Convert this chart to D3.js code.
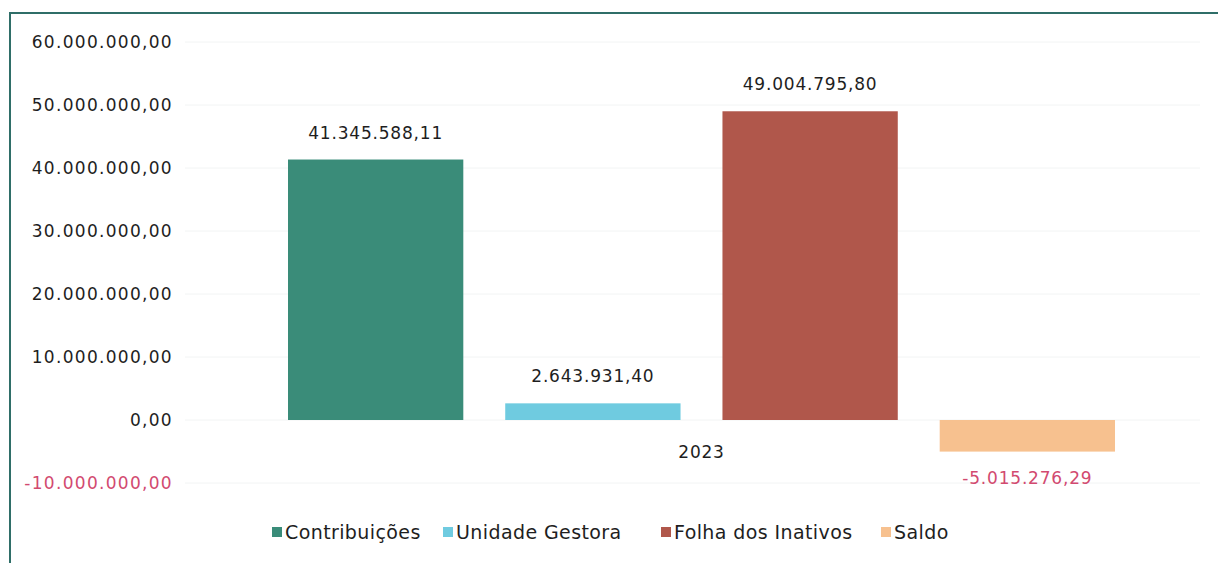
<!DOCTYPE html>
<html>
<head>
<meta charset="utf-8">
<script src="https://cdn.jsdelivr.net/npm/d3@7"></script>
<style>
  body { margin: 0; background: #fff; }
  svg { font-family: "DejaVu Sans", sans-serif; letter-spacing: 0.8px; }
</style>
</head>
<body>
<div id="graf"></div>
<script>
// Dados
const categoria = "2023"
const series = ["Contribuições", "Unidade Gestora", "Folha dos Inativos", "Saldo"]
const valores = [41345588.11, 2643931.40, 49004795.80, -5015276.29]
const cores = ["#3a8c79", "#6fcbe0", "#b0574b", "#f7c18f"]
const ticksY = [-10000000, 0, 10000000, 20000000, 30000000, 40000000, 50000000, 60000000]

const anchoTotal = 1218
const altoTotal = 563

const svg = d3.select("#graf")
  .append("svg")
  .attr("width", anchoTotal)
  .attr("height", altoTotal)

// Marco
svg.append("path")
  .attr("d", `M10,${altoTotal + 5} L10,13 L${anchoTotal + 5},13`)
  .attr("fill", "none")
  .attr("stroke", "#2f6e68")
  .attr("stroke-width", 2)

// Formato pt-BR
const fmt = (v) => {
  const s = Math.abs(v).toFixed(2).split(".")
  const ent = s[0].replace(/\B(?=(\d{3})+(?!\d))/g, ".")
  return (v < 0 ? "-" : "") + ent + "," + s[1]
}

// Escaladores
const y = d3.scaleLinear().domain([-10000000, 60000000]).range([483, 42])
const x1 = d3.scaleBand().domain(series).range([288, 1115]).paddingInner(0.193).paddingOuter(0)

// Grid
svg.append("g")
  .selectAll("line")
  .data(ticksY)
  .join("line")
  .attr("x1", 185)
  .attr("x2", 1200)
  .attr("y1", (d) => y(d))
  .attr("y2", (d) => y(d))
  .attr("stroke", "#f2f4f4")
  .attr("stroke-width", 1)

// Eixo Y
const yAxis = d3.axisLeft(y).tickValues(ticksY).tickFormat(fmt).tickSize(0).tickPadding(0)
const yg = svg.append("g").attr("transform", "translate(173,0)").call(yAxis)
yg.select(".domain").remove()
yg.selectAll("text")
  .attr("font-size", 17)
  .attr("font-family", "DejaVu Sans")
  .attr("letter-spacing", "1.3px")
  .attr("fill", (d) => d < 0 ? "#d24a70" : "#1e1e1e")

// Barras
svg.append("g")
  .selectAll("rect")
  .data(valores)
  .join("rect")
  .attr("x", (d, i) => x1(series[i]))
  .attr("width", x1.bandwidth())
  .attr("y", (d) => y(Math.max(0, d)))
  .attr("height", (d) => Math.abs(y(d) - y(0)))
  .attr("fill", (d, i) => cores[i])

// Etiquetas
svg.append("g")
  .selectAll("text")
  .data(valores)
  .join("text")
  .attr("x", (d, i) => x1(series[i]) + x1.bandwidth() / 2)
  .attr("y", (d) => d >= 0 ? y(d) - 21 : y(d) + 32)
  .attr("text-anchor", "middle")
  .attr("font-size", 17)
  .attr("fill", (d) => d < 0 ? "#d24a70" : "#1e1e1e")
  .text(fmt)

// Categoria
svg.append("text")
  .attr("x", (288 + 1115) / 2)
  .attr("y", 458)
  .attr("text-anchor", "middle")
  .attr("font-size", 17)
  .attr("fill", "#1e1e1e")
  .text(categoria)

// Legenda
const legX = [272, 443, 661, 881]
const leg = svg.append("g")
  .selectAll("g")
  .data(series)
  .join("g")
  .attr("transform", (d, i) => `translate(${legX[i]}, 532)`)
leg.append("rect")
  .attr("x", 0)
  .attr("y", -5)
  .attr("width", 10)
  .attr("height", 10)
  .attr("fill", (d, i) => cores[i])
leg.append("text")
  .attr("x", 13)
  .attr("y", 0)
  .attr("dy", "0.35em")
  .attr("font-size", 19)
  .attr("letter-spacing", "0.4px")
  .attr("fill", "#1e1e1e")
  .text((d) => d)
</script>
</body>
</html>
